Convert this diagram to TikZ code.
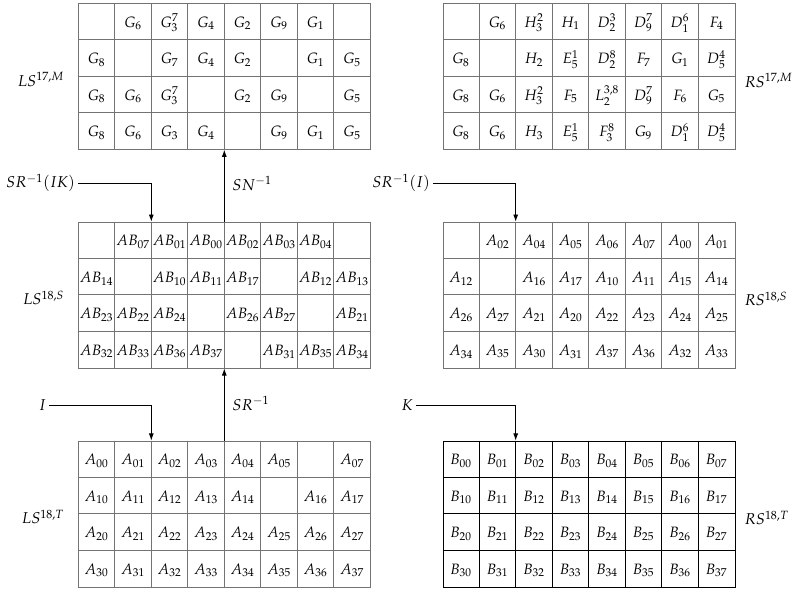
\documentclass[tikz,border=0pt]{standalone}
\usepackage{mathpazo}
\usetikzlibrary{arrows.meta,calc}
\newcommand\mygrid[5]{%
  \node[gridbox,#4] (#1) at (#2,#3) {};
  \foreach \kk in {1,...,7} \draw[gridline,#4] ($(#1.north west)+(\kk*36.5,0)$) -- ($(#1.south west)+(\kk*36.5,0)$);
  \foreach \kk in {1,2,3} \draw[gridline,#4] ($(#1.north west)+(0,\kk*36.5)$) -- ($(#1.north east)+(0,\kk*36.5)$);
  \foreach \rowlist [count=\ri] in {#5} {
    \foreach \txt [count=\ci] in \rowlist {
      \node[cell] (#1-\ri-\ci) at ($(#1.north west)+(\ci*36.5-18.25,\ri*36.5-12.5)$) {\ensuremath{\txt}};
    }
  }
}
\begin{document}
\begin{tikzpicture}[x=0.7pt,y=-0.7pt,
  gridbox/.style={draw=black!55, line width=0.5pt, minimum width=204.4pt, minimum height=102.2pt, inner sep=0pt, anchor=north west},
  gridline/.style={draw=black!55, line width=0.5pt},
  darkgrid/.style={draw=black, line width=0.6pt},
  cell/.style={inner sep=0pt, anchor=base, font=\fontsize{10.5}{12}\selectfont},
  lab/.style={inner sep=2pt, font=\fontsize{11}{13}\selectfont},
  arr/.style={draw=black, line width=0.6pt, -{Latex[length=5pt,width=3.5pt]}},
]
\useasboundingbox (0,0) rectangle (796,589);

\mygrid{TL}{78.3}{3}{}{{{}, G_6, G_3^7, G_4, G_2, G_9, G_1, {}},
  {G_8, {}, G_7, G_4, G_2, {}, G_1, G_5},
  {G_8, G_6, G_3^7, {}, G_2, G_9, {}, G_5},
  {G_8, G_6, G_3, G_4, {}, G_9, G_1, G_5}}
\mygrid{TR}{442.7}{3}{}{{{}, G_6, H_3^2, H_1, D_2^3, D_9^7, D_1^6, F_4},
  {G_8, {}, H_2, E_5^1, D_2^8, F_7, G_1, D_5^4},
  {G_8, G_6, H_3^2, F_5, L_2^{3,8}, D_9^7, F_6, G_5},
  {G_8, G_6, H_3, E_5^1, F_3^8, G_9, D_1^6, D_5^4}}
\mygrid{ML}{78.3}{221.7}{}{{{}, AB_{07}, AB_{01}, AB_{00}, AB_{02}, AB_{03}, AB_{04}, {}},
  {AB_{14}, {}, AB_{10}, AB_{11}, AB_{17}, {}, AB_{12}, AB_{13}},
  {AB_{23}, AB_{22}, AB_{24}, {}, AB_{26}, AB_{27}, {}, AB_{21}},
  {AB_{32}, AB_{33}, AB_{36}, AB_{37}, {}, AB_{31}, AB_{35}, AB_{34}}}
\mygrid{MR}{442.7}{221.7}{}{{{}, A_{02}, A_{04}, A_{05}, A_{06}, A_{07}, A_{00}, A_{01}},
  {A_{12}, {}, A_{16}, A_{17}, A_{10}, A_{11}, A_{15}, A_{14}},
  {A_{26}, A_{27}, A_{21}, A_{20}, A_{22}, A_{23}, A_{24}, A_{25}},
  {A_{34}, A_{35}, A_{30}, A_{31}, A_{37}, A_{36}, A_{32}, A_{33}}}
\mygrid{BL}{78.3}{440.6}{}{{A_{00}, A_{01}, A_{02}, A_{03}, A_{04}, A_{05}, {}, A_{07}},
  {A_{10}, A_{11}, A_{12}, A_{13}, A_{14}, {}, A_{16}, A_{17}},
  {A_{20}, A_{21}, A_{22}, A_{23}, A_{24}, A_{25}, A_{26}, A_{27}},
  {A_{30}, A_{31}, A_{32}, A_{33}, A_{34}, A_{35}, A_{36}, A_{37}}}
\mygrid{BR}{442.7}{440.6}{darkgrid}{{B_{00}, B_{01}, B_{02}, B_{03}, B_{04}, B_{05}, B_{06}, B_{07}},
  {B_{10}, B_{11}, B_{12}, B_{13}, B_{14}, B_{15}, B_{16}, B_{17}},
  {B_{20}, B_{21}, B_{22}, B_{23}, B_{24}, B_{25}, B_{26}, B_{27}},
  {B_{30}, B_{31}, B_{32}, B_{33}, B_{34}, B_{35}, B_{36}, B_{37}}}

% side labels
\node[lab, anchor=east] (lsm) at ($(TL.west)+(-11,3)$) {$LS^{17,M}$};
\node[lab, anchor=west] (rsm) at ($(TR.east)+(6,4)$) {$RS^{17,M}$};
\node[lab, anchor=east] (lss) at ($(ML.west)+(-11,3)$) {$LS^{18,S}$};
\node[lab, anchor=west] (rss) at ($(MR.east)+(6,4)$) {$RS^{18,S}$};
\node[lab, anchor=east] (lst) at ($(BL.west)+(-11,3)$) {$LS^{18,T}$};
\node[lab, anchor=west] (rst) at ($(BR.east)+(6,4)$) {$RS^{18,T}$};

% inputs
\node[lab, anchor=west] (srik) at (3,183) {$SR^{-1}(IK)$};
\coordinate (srikT) at ($(ML.north west)+(73,0)$);
\draw[arr] (srik) -| (srikT);

\node[lab, anchor=east] (sri) at (433,183) {$SR^{-1}(I)$};
\coordinate (sriT) at ($(MR.north west)+(73,0)$);
\draw[arr] (sri) -| (sriT);

\node[lab, anchor=east] (inI) at (49,405) {$I$};
\coordinate (inIT) at ($(BL.north west)+(73,0)$);
\draw[arr] (inI) -| (inIT);

\node[lab, anchor=east] (inK) at (416,405) {$K$};
\coordinate (inKT) at ($(BR.north west)+(73,0)$);
\draw[arr] (inK) -| (inKT);

% vertical transforms
\coordinate (snB) at ($(ML.north west)+(146,0)$);
\coordinate (snT) at ($(TL.south west)+(146,0)$);
\draw[arr] (snB) -- (snT);
\node[lab, anchor=west] (snl) at ($(snB)+(5,-38)$) {$SN^{-1}$};

\coordinate (srB) at ($(BL.north west)+(146,0)$);
\coordinate (srT) at ($(ML.south west)+(146,0)$);
\draw[arr] (srB) -- (srT);
\node[lab, anchor=west] (srl) at ($(srB)+(5,-37)$) {$SR^{-1}$};
\end{tikzpicture}
\end{document}
